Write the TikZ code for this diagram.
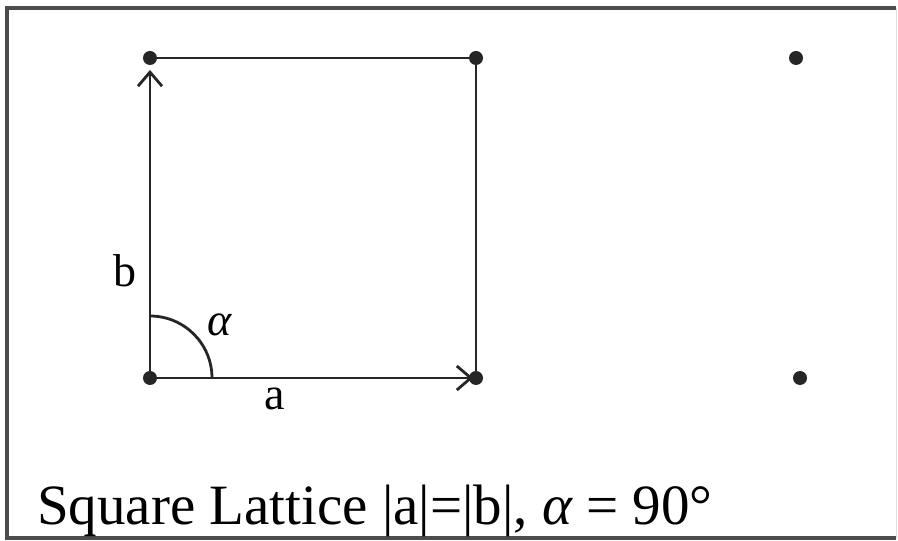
\documentclass[tikz,border=0pt]{standalone}
\usepackage{fontspec}
\setmainfont{Liberation Serif}
\usetikzlibrary{arrows.meta,calc}
\begin{document}
\begin{tikzpicture}[x=1pt,y=1pt,
  dot/.style={circle,fill=black!85,inner sep=0pt,minimum size=14pt},
  edge/.style={line width=2.8pt,draw=black!85},
  vec/.style={edge,-{Straight Barb[length=14pt,width=24pt,line width=2.8pt]}},
  lbl/.style={font=\fontsize{46}{50}\selectfont,inner sep=0pt,anchor=base}]
\useasboundingbox (0,0) rectangle (898,541);
\fill[white] (0,0) rectangle (898,541);
\draw[line width=3.5pt,black!70] (896,3) -- (7,3) -- (7,533) -- (896,533);
\draw[line width=1pt,black!12] (896,3) -- (896,533);
\node[dot] (p00) at (150,163) {};
\node[dot] (p10) at (476,163) {};
\node[dot] (p01) at (150,483) {};
\node[dot] (p11) at (476,483) {};
\node[dot] (q1) at (796,483) {};
\node[dot] (q0) at (800,163) {};
\draw[edge] (p01.center) -- (p11.center) -- (p10.center);
\draw[vec,shorten >=3pt] (p00.center) -- (p10.center);
\draw[vec,shorten >=12pt] (p00.center) -- (p01.center);
\draw[edge] ($(p00.center)+(62,0)$) arc (0:90:62);
\node[lbl] (lb) at (125,254) {b};
\node[lbl] (la) at (275,131) {a};
\node[lbl,anchor=center] (lal) at (220,216) {\itshape α};
\node[font=\fontsize{57}{60}\selectfont,inner sep=0pt,anchor=base west] (cap) at (37,16) {Square Lattice |a|=|b|, {\itshape α} = 90°};
\end{tikzpicture}
\end{document}
